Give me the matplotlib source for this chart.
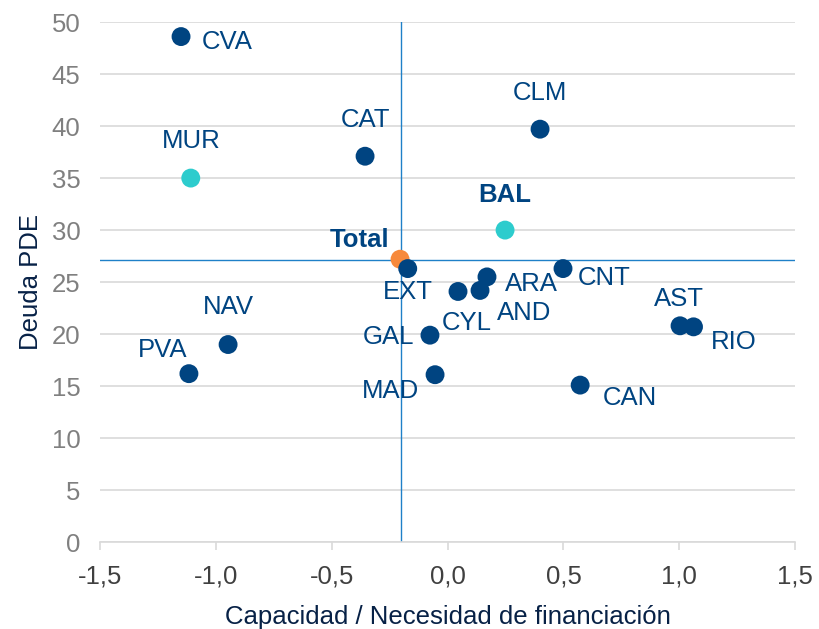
import matplotlib
matplotlib.use("Agg")
import matplotlib.pyplot as plt

plt.rcParams['font.family'] = ['Liberation Sans', 'DejaVu Sans']

# regions: capacity/need of financing (x) vs PDE debt (y)
regions = ['CVA', 'MUR', 'CAT', 'CLM', 'BAL', 'Total', 'EXT', 'CYL', 'AND', 'ARA',
           'CNT', 'GAL', 'MAD', 'CAN', 'AST', 'RIO', 'NAV', 'PVA']
financiacion = [-1.150, -1.108, -0.356, 0.399, 0.248, -0.205, -0.172, 0.045, 0.140, 0.170,
                0.498, -0.076, -0.054, 0.572, 1.003, 1.061, -0.947, -1.116]
deuda = [48.6, 35.0, 37.1, 39.7, 30.0, 27.2, 26.3, 24.1, 24.2, 25.5,
         26.3, 19.9, 16.1, 15.1, 20.8, 20.7, 19.0, 16.2]

total_x = -0.20
total_y = 27.1

navy = '#004481'
turq = '#2DCCCD'
orange = '#F7893B'
colors = {'MUR': turq, 'BAL': turq, 'Total': orange}

# label offsets in points
offsets = {'CVA': (33, -4), 'MUR': (0, 27), 'CAT': (0, 26), 'CLM': (0, 26), 'BAL': (0, 25),
           'Total': (-29, 14), 'EXT': (0, -17), 'CYL': (6, -23), 'AND': (32, -16),
           'ARA': (32, -5), 'CNT': (30, -7), 'GAL': (-30, -1), 'MAD': (-32, -12),
           'CAN': (36, -9), 'AST': (-1, 19), 'RIO': (29, -11), 'NAV': (0, 27), 'PVA': (-19, 17)}

fig = plt.figure(figsize=(8.19, 6.29), dpi=100)
ax = fig.add_axes([0.122, 0.138, 0.849, 0.827])

ax.set_xlim(-1.5, 1.5)
ax.set_ylim(0, 50)
ax.set_yticks(range(0, 51, 5))
ax.set_xticks([-1.5, -1.0, -0.5, 0.0, 0.5, 1.0, 1.5])
ax.set_xticklabels([f'{v:.1f}'.replace('.', ',') for v in ax.get_xticks()])
ax.grid(axis='y', color='#D9D9D9', linewidth=1.2, zorder=0)
ax.set_axisbelow(True)

for s in ['top', 'right', 'left']:
    ax.spines[s].set_visible(False)
ax.spines['bottom'].set_color('#D9D9D9')
ax.spines['bottom'].set_linewidth(1.2)
ax.tick_params(axis='x', colors='#D9D9D9', length=6, width=1.2, labelcolor='#404040',
               labelsize=18.5, pad=10)
ax.tick_params(axis='y', length=0, labelcolor='#808080', labelsize=18.5, pad=14)

ax.axvline(total_x, color='#1F80C8', linewidth=1, zorder=1)
ax.axhline(total_y, color='#1F80C8', linewidth=1, zorder=1)

for name, x, y in zip(regions, financiacion, deuda):
    c = colors.get(name, navy)
    ax.scatter(x, y, s=185, color=c, edgecolors='none', zorder=3)
    bold = name in ('Total', 'BAL')
    ax.annotate(name, (x, y), xytext=offsets[name], textcoords='offset points',
                ha='center', va='center', fontsize=18.5, color=navy,
                fontweight='bold' if bold else 'normal', zorder=4)

ax.set_xlabel('Capacidad / Necesidad de financiación', fontsize=18.5, color='#072146', labelpad=12)
ax.set_ylabel('Deuda PDE', fontsize=18.5, color='#072146', labelpad=6)

fig.savefig('out.png', dpi=100)
